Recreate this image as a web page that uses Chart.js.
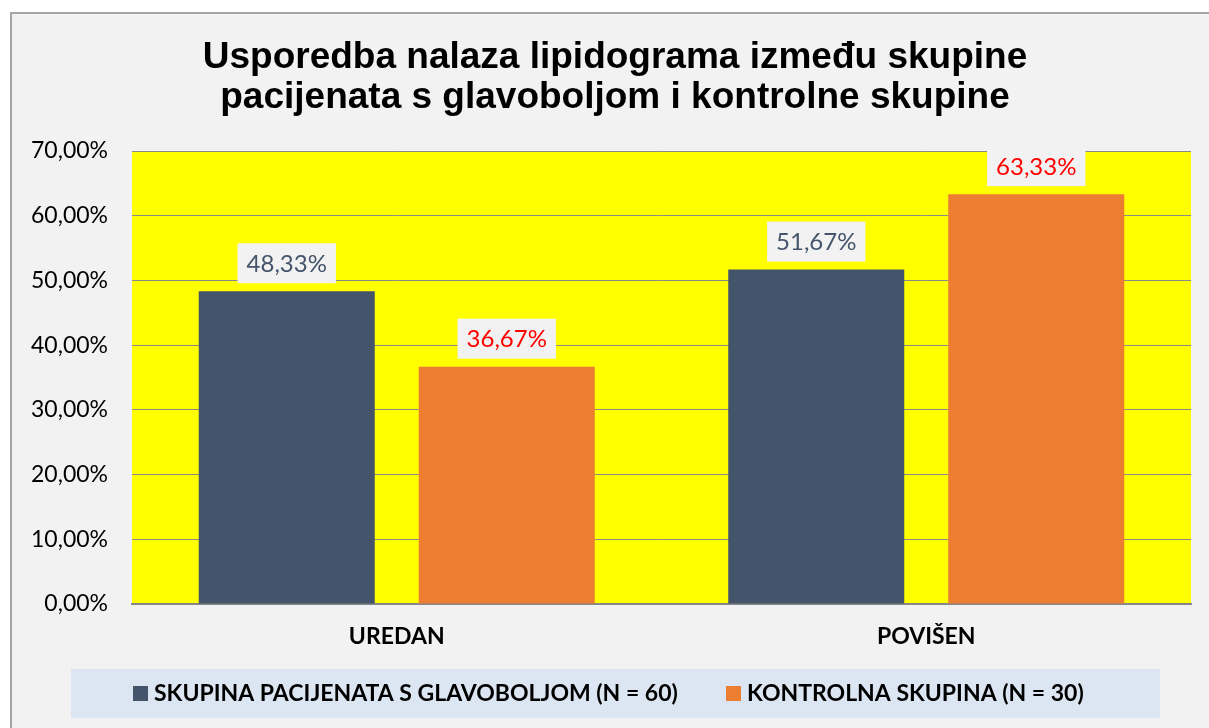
<!DOCTYPE html>
<html>
<head>
<meta charset="utf-8">
<script src="https://cdn.jsdelivr.net/npm/chart.js@4"></script>
<style>
  html, body { margin: 0; padding: 0; background: #ffffff; }
  #wrap { position: absolute; left: 0; top: 0; width: 1209px; height: 728px; }
</style>
</head>
<body>
<div id="wrap"><canvas id="myChart"></canvas></div>
<script>
// podaci
const categories = ['UREDAN', 'POVIŠEN'];
const seriesNames = ['SKUPINA PACIJENATA S GLAVOBOLJOM (N = 60)', 'KONTROLNA SKUPINA (N = 30)'];
const pacijenti = [48.33, 51.67];
const kontrola = [36.67, 63.33];
const yTicks = [0, 10, 20, 30, 40, 50, 60, 70];
const titleLines = ['Usporedba nalaza lipidograma između skupine', 'pacijenata s glavoboljom i kontrolne skupine'];

const fmt = v => v.toFixed(2).replace('.', ',') + '%';

// okvir, siva pozadina, žuto područje grafa, naslov i legenda
const frame = {
    id: 'frame',
    beforeDraw(chart) {
        const c = chart.ctx;
        const a = chart.chartArea;
        c.save();
        c.fillStyle = '#ffffff';
        c.fillRect(0, 0, chart.width, chart.height);
        c.fillStyle = '#f2f2f2';
        c.fillRect(11, 13, chart.width - 11, chart.height - 13);
        c.strokeStyle = '#a6a6a6';
        c.lineWidth = 2;
        c.beginPath();
        c.moveTo(11, chart.height);
        c.lineTo(11, 13);
        c.lineTo(chart.width, 13);
        c.stroke();
        c.fillStyle = '#ffff00';
        c.fillRect(a.left, a.top, a.right - a.left, a.bottom - a.top);

        // naslov
        c.fillStyle = '#000000';
        c.font = 'bold 37px "Liberation Sans"';
        c.textAlign = 'center';
        c.textBaseline = 'middle';
        c.fillText(titleLines[0], 615, 58);
        c.fillText(titleLines[1], 615, 98);

        // legenda
        c.fillStyle = '#dce6f2';
        c.fillRect(71, 669, 1089, 49);
        c.font = 'bold 23px Lato';
        c.textAlign = 'left';
        const startX = [133, 726];
        chart.data.datasets.forEach((ds, i) => {
            c.fillStyle = ds.backgroundColor;
            c.fillRect(startX[i], 686, 15, 15);
            c.fillStyle = '#000000';
            c.fillText(ds.label, startX[i] + 21, 694);
        });
        c.restore();
    }
};

// oznake vrijednosti iznad stupaca
const valueLabels = {
    id: 'valueLabels',
    afterDatasetsDraw(chart) {
        const c = chart.ctx;
        c.save();
        c.font = '24px Lato';
        c.textAlign = 'center';
        c.textBaseline = 'middle';
        chart.data.datasets.forEach((ds, i) => {
            chart.getDatasetMeta(i).data.forEach((bar, j) => {
                const txt = fmt(ds.data[j]);
                const w = c.measureText(txt).width + 18;
                const h = 40;
                const bottom = bar.y - 8;
                c.fillStyle = '#f2f2f2';
                c.fillRect(bar.x - w / 2, bottom - h, w, h);
                c.fillStyle = ds.labelColor;
                c.fillText(txt, bar.x, bottom - h / 2 + 1);
            });
        });
        c.restore();
    }
};

const ctx = document.getElementById('myChart');

new Chart(ctx, {
    type: 'bar',
    data: {
        labels: categories,
        datasets: [{
            label: seriesNames[0],
            data: pacijenti,
            backgroundColor: '#44546a',
            labelColor: '#44546a'
        }, {
            label: seriesNames[1],
            data: kontrola,
            backgroundColor: '#ed7d31',
            labelColor: '#ff0000'
        }]
    },
    options: {
        responsive: true,
        maintainAspectRatio: false,
        animation: false,
        categoryPercentage: 0.831,
        barPercentage: 0.8,
        layout: { padding: { left: 12, right: 18, top: 151, bottom: 59 } },
        plugins: {
            title: { display: false },
            legend: { display: false },
            tooltip: { enabled: false }
        },
        scales: {
            x: {
                grid: { display: false, drawTicks: false },
                border: { color: '#868686', width: 2 },
                ticks: {
                    color: '#000000',
                    font: { family: 'Lato', size: 23, weight: 'bold' },
                    padding: 19
                },
                afterFit(scale) { scale.height = 65; }
            },
            y: {
                min: 0,
                max: 70,
                afterBuildTicks(scale) { scale.ticks = yTicks.map(v => ({ value: v })); },
                grid: { color: '#898989', lineWidth: 1, drawTicks: false },
                border: { display: false },
                ticks: {
                    color: '#000000',
                    font: { family: 'Lato', size: 23 },
                    padding: 24,
                    callback: v => fmt(v)
                },
                afterFit(scale) { scale.width = 120; }
            }
        }
    },
    plugins: [frame, valueLabels]
});
</script>
</body>
</html>
